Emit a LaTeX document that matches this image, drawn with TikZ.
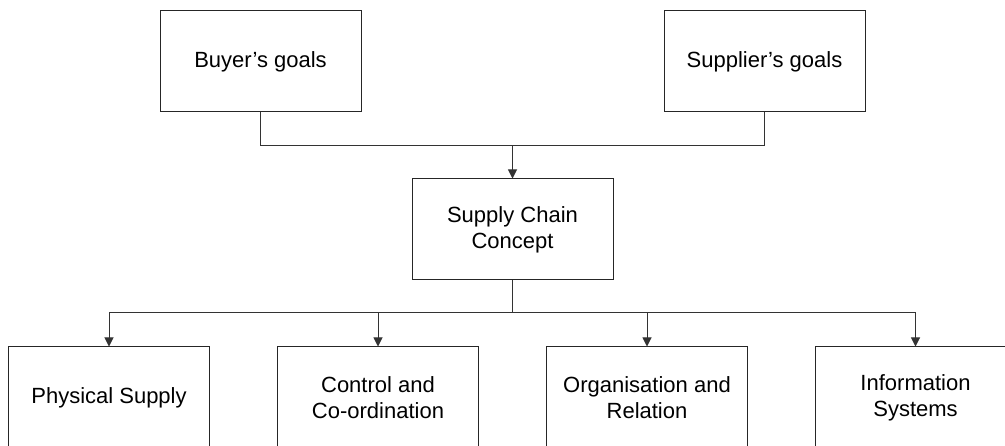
\documentclass[tikz,border=0pt]{standalone}
\usepackage{fontspec}
\setmainfont{Liberation Sans}
\usetikzlibrary{arrows.meta}
\begin{document}
\begin{tikzpicture}[x=1pt,y=-1pt,
  box/.style={draw=black!85,line width=1pt,minimum width=201pt,minimum height=101pt,inner sep=0pt,align=center,font=\fontsize{22}{26}\selectfont},
  conn/.style={draw=black!80,line width=1pt},
  arr/.style={conn,-{Triangle[length=9pt,width=9pt]}}]
\clip (0,0) rectangle (1005,446);
\fill[white] (0,0) rectangle (1005,446);
\node[box] (buyer) at (260.5,61.5) {Buyer’s goals};
\node[box] (supp) at (764.5,61.5) {Supplier’s goals};
\node[box] (scc) at (512.5,229.5) {Supply Chain\\Concept};
\node[box] (phys) at (109,397.5) {Physical Supply};
\node[box] (ctrl) at (378,397.5) {Control and\\Co-ordination};
\node[box] (org) at (647,397.5) {Organisation and\\Relation};
\node[box] (info) at (915.5,397.5) {Information\\Systems};
\coordinate (j1) at (512.5,145.5);
\coordinate (j2) at (512.5,313);
\draw[conn] (buyer.south) |- (j1);
\draw[conn] (supp.south) |- (j1);
\draw[arr] (j1) -- (scc.north);
\draw[conn] (scc.south) -- (j2);
\draw[arr] (j2) -| (phys.north);
\draw[arr] (j2) -| (ctrl.north);
\draw[arr] (j2) -| (org.north);
\draw[arr] (j2) -| (info.north);
\end{tikzpicture}
\end{document}
